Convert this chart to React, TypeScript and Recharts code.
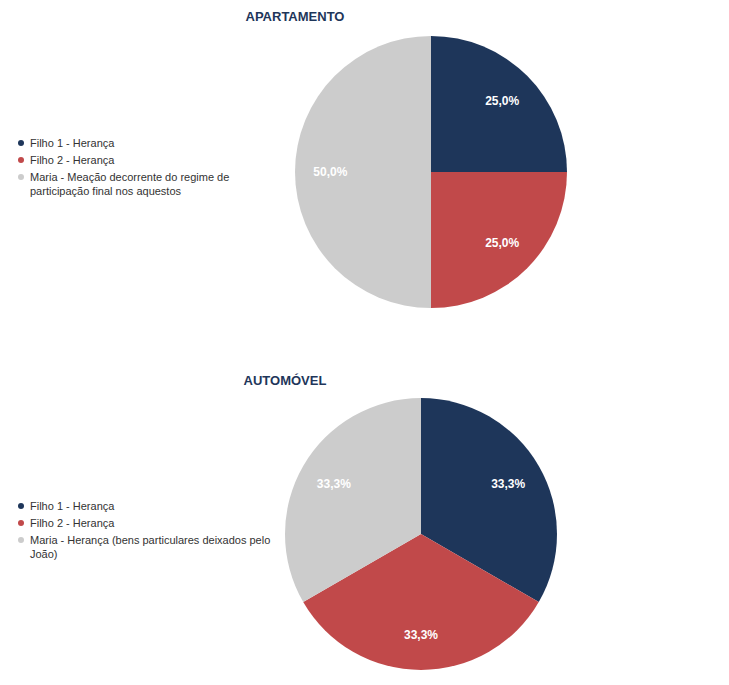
import { PieChart, Pie, Cell, Legend } from "recharts";

const COLORS = ["#1e365a", "#c1494a", "#cccccc"];

const apartamentoLabels = [
  "Filho 1 - Herança",
  "Filho 2 - Herança",
  "Maria - Meação decorrente do regime de participação final nos aquestos",
];
const apartamentoValues = [1, 1, 2];

const automovelLabels = [
  "Filho 1 - Herança",
  "Filho 2 - Herança",
  "Maria - Herança (bens particulares deixados pelo João)",
];
const automovelValues = [1, 1, 1];

const FONT = "'Liberation Sans', Arial, Helvetica, sans-serif";
const RAD = Math.PI / 180;

// eslint-disable-next-line @typescript-eslint/no-explicit-any
function sliceLabel({ cx, cy, midAngle, outerRadius, percent }: any) {
  const r = outerRadius * 0.74;
  const x = cx + r * Math.cos(-midAngle * RAD);
  const y = cy + r * Math.sin(-midAngle * RAD);
  return (
    <text
      x={x}
      y={y}
      fill="#ffffff"
      textAnchor="middle"
      dominantBaseline="central"
      style={{ fontFamily: FONT, fontSize: 12, fontWeight: 700 }}
    >
      {(percent * 100).toFixed(1).replace(".", ",") + "%"}
    </text>
  );
}

// eslint-disable-next-line @typescript-eslint/no-explicit-any
function LegendList({ payload }: any) {
  return (
    <ul style={{ listStyle: "none", margin: 0, padding: 0, fontFamily: FONT }}>
      {(payload || []).map((p: any, i: number) => (
        <li
          key={i}
          style={{
            display: "flex",
            alignItems: "flex-start",
            fontSize: 11,
            lineHeight: "14px",
            color: "#333333",
            marginBottom: 3,
          }}
        >
          <span
            style={{
              display: "inline-block",
              width: 6,
              height: 6,
              borderRadius: 3,
              background: p.color,
              marginTop: 4,
              marginRight: 6,
              flexShrink: 0,
            }}
          />
          <span>{p.value}</span>
        </li>
      ))}
    </ul>
  );
}

function PieBlock({
  title,
  labels,
  values,
  height,
  cx,
  cy,
  titleX,
  titleY,
  legendTop,
}: {
  title: string;
  labels: string[];
  values: number[];
  height: number;
  cx: number;
  cy: number;
  titleX: number;
  titleY: number;
  legendTop: number;
}) {
  const data = labels.map((name, i) => ({ name, value: values[i] }));
  return (
    <div style={{ position: "relative", width: 729, height }}>
      <div
        style={{
          position: "absolute",
          left: titleX - 100,
          width: 200,
          top: titleY - 8,
          textAlign: "center",
          fontFamily: FONT,
          fontWeight: 700,
          fontSize: 13,
          color: "#1e365a",
          lineHeight: "16px",
        }}
      >
        {title}
      </div>
      <PieChart width={729} height={height} margin={{ top: 0, right: 0, bottom: 0, left: 0 }}>
        <Pie
          data={data}
          dataKey="value"
          nameKey="name"
          cx={cx}
          cy={cy}
          outerRadius={136}
          startAngle={90}
          endAngle={-270}
          stroke="none"
          label={sliceLabel}
          labelLine={false}
          isAnimationActive={false}
        >
          {data.map((_, i) => (
            <Cell key={i} fill={COLORS[i]} />
          ))}
        </Pie>
        <Legend
          content={<LegendList />}
          wrapperStyle={{ position: "absolute", left: 18, top: legendTop, width: 257 }}
        />
      </PieChart>
    </div>
  );
}

export default function App() {
  return (
    <div style={{ position: "absolute", left: 0, top: 0, width: 729, height: 685, background: "#ffffff" }}>
      <PieBlock
        title="APARTAMENTO"
        labels={apartamentoLabels}
        values={apartamentoValues}
        height={345}
        cx={431}
        cy={172}
        titleX={295}
        titleY={17}
        legendTop={136}
      />
      <PieBlock
        title="AUTOMÓVEL"
        labels={automovelLabels}
        values={automovelValues}
        height={340}
        cx={421}
        cy={189}
        titleX={285}
        titleY={36}
        legendTop={154}
      />
    </div>
  );
}
